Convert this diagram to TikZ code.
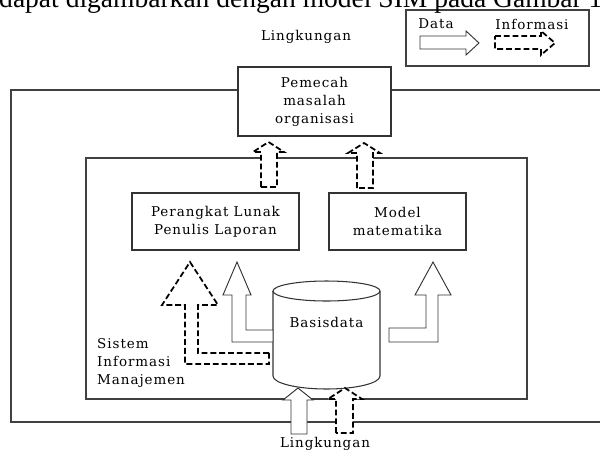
\documentclass[tikz,border=0pt]{standalone}
\usepackage{fontspec}
\setmainfont{DejaVu Serif}[LetterSpace=7]
\newfontfamily\topfont{Liberation Serif}
\pgfdeclarelayer{edgelayer}
\pgfdeclarelayer{nodelayer}
\pgfsetlayers{edgelayer,nodelayer,main}
\tikzstyle{border}=[draw=black!75, line width=0.9pt]
\tikzstyle{unit}=[rectangle, draw=black!80, fill=white, line width=0.9pt, align=center, font=\fontsize{11.5}{15.3}\selectfont, inner sep=0pt]
\tikzstyle{txt}=[font=\fontsize{11.5}{15.3}\selectfont, inner sep=0pt]
\tikzstyle{dataflow}=[draw=black!80, fill=white, line width=0.8pt, line join=miter]
\tikzstyle{infoflow}=[draw=black, fill=white, line width=1.5pt, dash pattern=on 5pt off 2.5pt]

\begin{document}
\begin{tikzpicture}[x=0.3mm, y=-0.3mm]
    \useasboundingbox (0,0) rectangle (600,454);
    \clip (0,0) rectangle (600,454);
    \begin{pgfonlayer}{edgelayer}
        \draw [style=border] (602,90) -- (11,90) -- (11,422) -- (602,422);
        \node [style=border, rectangle, minimum width=132.3mm, minimum height=72.3mm] (sim) at (306.5,278.5) {};
        \node [style=border, rectangle, minimum width=54.9mm, minimum height=16.8mm] (legend) at (497.5,38) {};
    \end{pgfonlayer}
    \begin{pgfonlayer}{nodelayer}
        \node [style=unit, minimum width=45.9mm, minimum height=20.7mm] (pemecah) at (314.5,101.5) {Pemecah\\masalah\\organisasi};
        \node [style=unit, minimum width=50.1mm, minimum height=17.1mm] (laporan) at (215.5,221.5) {Perangkat Lunak\\Penulis Laporan};
        \node [style=unit, minimum width=41.1mm, minimum height=17.1mm] (model) at (397.5,221.5) {Model\\matematika};
        % basisdata cylinder
        \draw [draw=black!80, fill=white, line width=0.9pt] (273,291) -- (273,376)
            arc [start angle=180, end angle=360, x radius=16.05mm, y radius=3.9mm] -- (380,291)
            arc [start angle=0, end angle=180, x radius=16.05mm, y radius=3mm] -- cycle;
        \draw [draw=black!80, line width=0.9pt] (273,291) arc [start angle=180, end angle=360, x radius=16.05mm, y radius=3mm];
    \end{pgfonlayer}

    \node [anchor=base west, inner sep=0pt, font=\topfont\fontsize{23.5}{28}\selectfont] (caption) at (-1,7) {dapat digambarkan dengan model SIM pada Gambar 1};
    \node [style=txt] (lingA) at (306,37) {Lingkungan};
    \node [style=txt] (lingB) at (325,444) {Lingkungan};
    \node [style=txt] (data) at (436,24) {Data};
    \node [style=txt] (info) at (532,24) {Informasi};
    \node [style=txt] (basis) at (326.5,322) {Basisdata};
    \node [style=txt, anchor=west, align=left] (simlabel) at (97,363) {Sistem\\Informasi\\Manajemen};

    % legend
    \draw [style=dataflow] (420,36) -- (466,36) -- (466,31) -- (479,43) -- (466,55) -- (466,49) -- (420,49) -- cycle;
    \draw [style=infoflow] (495,36) -- (541,36) -- (541,31) -- (555,43) -- (541,55) -- (541,49) -- (495,49) -- cycle;

    % from lingkungan into basisdata
    \draw [style=dataflow] (291,434) -- (291,400) -- (283,400) -- (298,388) -- (313,400) -- (307,400) -- (307,434) -- cycle;
    \draw [style=infoflow] (336,433) -- (336,399) -- (328,399) -- (345,388) -- (362,399) -- (353,399) -- (353,433) -- cycle;

    % from basisdata upwards
    \draw [style=infoflow] (269,353) -- (198,353) -- (198,305) -- (218,305) -- (190,262) -- (162,305) -- (185,305) -- (185,364) -- (269,364) -- cycle;
    \draw [style=dataflow] (273,330) -- (246,330) -- (246,295) -- (251,295) -- (237,262) -- (223,295) -- (232,295) -- (232,342) -- (273,342) -- cycle;
    \draw [style=dataflow] (389,328) -- (426,328) -- (426,295) -- (415,295) -- (433,262) -- (451,295) -- (438,295) -- (438,342) -- (389,342) -- cycle;

    % to pemecah masalah
    \draw [style=infoflow] (261,187) -- (261,152) -- (253,152) -- (268.5,142) -- (284,152) -- (277,152) -- (277,187) -- cycle;
    \draw [style=infoflow] (357,188) -- (357,153) -- (348,153) -- (364,143) -- (380,153) -- (373,153) -- (373,188) -- cycle;
\end{tikzpicture}
\end{document}
